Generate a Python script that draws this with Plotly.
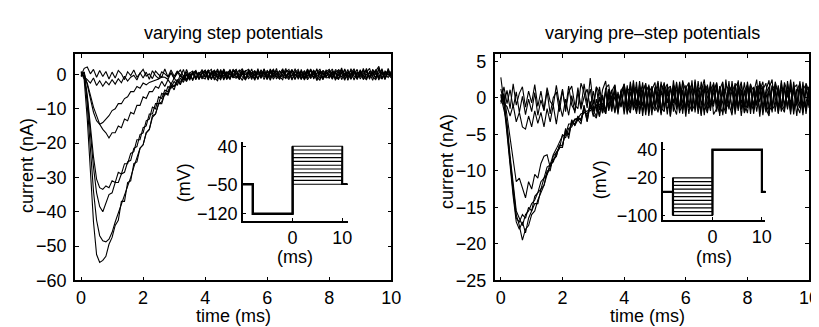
import plotly.graph_objects as go

# ---------------- data ----------------
SAMPLE_MS = 0.1
time_ms = [round(i * SAMPLE_MS, 1) for i in range(101)]

# Left panel: currents (nA) for different step potentials
step_trace_1 = [
    0.8, -1.5, -13.0, -29.5, -43.0, -52.5, -54.8, -54.2, -53.0, -49.5,
    -47.5, -44.0, -42.5, -37.0, -37.0, -31.5, -31.0, -26.0, -25.5, -21.5,
    -20.5, -17.0, -16.0, -12.5, -11.5, -8.5, -8.0, -5.5, -5.5, -3.0,
    -4.5, -1.5, -3.0, -0.2, -2.0, 0.5, -1.8, 0.9, -1.3, 0.4,
    1.2, -0.9, 0.6, -1.6, 1.0, -0.4, 1.5, -1.2, 0.3, -1.0,
    1.4, -1.5, 0.4, 1.1, -1.3, 0.2, -1.7, 1.0, -0.6, 1.6,
    -1.1, 0.7, -0.5, 1.8, -1.4, 0.9, -0.3, -1.5, 1.2, 0.1,
    -1.0, 1.5, -1.6, 0.4, 1.0, -0.9, 1.7, -1.2, 0.5, -0.6,
    1.3, -1.4, 0.7, -0.3, 1.9, -1.3, 0.2, 1.1, -1.6, 0.8,
    -0.7, 1.8, -1.0, 0.5, -1.7, 1.0, 2.4, -1.1, 0.3, -0.9,
    0.6]
step_trace_2 = [
    -0.5, 0.8, -9.0, -22.0, -34.0, -42.5, -47.0, -48.5, -48.8, -48.0,
    -46.0, -43.0, -40.5, -38.0, -35.5, -32.5, -30.0, -27.0, -24.5, -21.5,
    -20.5, -17.0, -16.0, -12.0, -11.5, -8.5, -8.5, -5.5, -6.0, -3.5,
    -3.5, -2.5, -2.0, -1.2, -1.5, -0.5, 0.5, -1.5, 0.4, -0.8,
    -1.3, 0.8, 1.5, -1.0, -1.8, 1.2, -0.6, 0.9, -1.4, 1.6,
    -0.5, -1.3, 1.0, -1.6, 1.4, 0.3, 1.1, -1.2, 0.7, -1.5,
    1.3, -0.7, 1.5, -1.3, 0.2, 1.7, -1.1, 0.6, -1.6, 0.9,
    0.4, -1.5, 1.2, -0.5, 1.6, -1.3, 0.3, 0.9, -1.0, 1.4,
    -1.2, 0.9, -1.7, 0.5, 1.3, -0.7, 1.5, -1.4, 0.8, -0.3,
    1.1, -1.3, 0.6, 1.8, -0.8, -1.5, 0.5, 1.3, -1.1, 0.9,
    -0.4]
step_trace_3 = [
    0.3, -0.8, -7.0, -17.0, -27.0, -34.5, -38.5, -40.0, -37.5, -35.0,
    -34.5, -31.5, -31.5, -29.0, -28.5, -25.5, -25.0, -21.5, -21.0, -17.5,
    -17.0, -13.5, -13.0, -9.5, -10.0, -6.5, -7.0, -4.5, -5.0, -2.5,
    -3.5, -1.5, -2.8, -0.5, -2.0, 0.3, -1.5, 0.9, -1.1, 0.6,
    -0.8, 1.3, -1.5, 0.6, 1.0, -1.2, 1.6, -0.4, -1.4, 0.8,
    1.5, -0.8, 0.3, -1.4, 1.1, -0.2, -1.3, 1.7, -0.9, 0.6,
    0.1, -1.7, 0.9, 0.5, -1.1, 1.4, -0.6, 0.2, 1.5, -1.2,
    0.8, -0.1, -1.4, 1.2, -0.6, 0.9, -1.8, 0.5, 1.1, -0.7,
    0.3, 1.6, -0.9, -1.3, 0.7, 0.2, -1.1, 1.7, -0.4, -1.2,
    1.4, -0.4, -1.6, 0.9, 0.5, -0.9, 1.9, -1.3, 0.7, 0.0,
    0.9]
step_trace_4 = [
    -0.6, 0.5, -6.0, -15.0, -24.0, -30.5, -33.0, -33.5, -32.5, -33.0,
    -31.0, -31.5, -28.5, -29.0, -26.0, -26.0, -23.0, -22.5, -19.0, -19.0,
    -15.5, -15.0, -11.5, -11.5, -8.5, -8.5, -5.5, -6.0, -3.5, -4.0,
    -2.0, -3.2, -1.0, -2.3, 0.0, -1.7, 0.6, -1.2, 0.3, 0.9,
    0.6, -1.6, 1.0, 0.2, -0.9, 1.5, -1.3, 0.4, 1.2, -0.6,
    -1.1, 0.7, 1.7, -1.2, 0.3, -0.8, 0.9, -1.5, 1.4, 0.0,
    0.7, 1.0, -1.4, 0.3, -0.7, -1.5, 1.2, 0.8, -0.5, 1.7,
    -1.4, 0.5, 0.9, -1.0, 1.5, 0.0, -0.7, -1.7, 1.2, 0.2,
    0.9, -0.7, 1.4, 1.0, -1.5, 0.5, -0.9, 0.3, 1.7, -1.0,
    -0.2, 0.7, 1.2, -1.4, 1.5, 0.0, -1.0, 0.5, -1.5, 1.8,
    -0.7]
step_trace_5 = [
    0.4, -0.5, -2.5, -6.0, -9.5, -12.0, -14.5, -16.0, -17.0, -18.5,
    -17.0, -17.0, -15.0, -15.5, -13.0, -13.5, -11.0, -11.5, -9.0, -9.0,
    -6.5, -7.0, -5.0, -5.0, -3.5, -4.0, -2.0, -3.5, -1.5, -2.8,
    -1.0, -2.3, -0.1, -1.7, 0.3, -1.4, 0.8, -1.0, 0.6, -0.8,
    1.0, -1.2, 0.4, 1.3, -0.5, -1.5, 0.9, 0.0, -1.0, 1.2,
    0.5, -0.4, -1.7, 1.0, 1.5, -0.8, 0.2, -1.3, 0.7, 0.3,
    -1.5, 1.4, 0.2, -0.7, 1.0, -0.3, 1.8, -1.0, -0.2, 0.7,
    1.5, -1.0, 0.5, -1.5, 0.0, 1.2, -0.5, 0.8, -1.3, 1.0,
    -0.3, 0.5, -1.2, 1.5, 0.3, -1.7, 0.8, -0.7, 1.0, 0.2,
    0.8, -1.5, 0.0, -0.5, 1.2, 0.3, -0.8, 1.7, -1.2, 0.5,
    0.2]
step_trace_6 = [
    -0.3, 0.6, -3.0, -7.5, -11.0, -13.5, -14.5, -14.0, -13.0, -12.0,
    -10.5, -10.0, -8.5, -8.5, -7.0, -6.5, -5.0, -5.0, -3.5, -4.0,
    -2.5, -3.0, -2.3, -2.0, -1.5, -1.3, -0.7, -0.8, -1.4, 0.5,
    -1.2, 0.9, -0.7, 1.5, -1.6, 0.4, 1.0, -0.8, 0.5, -1.3,
    0.2, 1.3, -1.0, -0.3, 1.6, -0.7, 0.5, -1.5, 0.8, 0.3,
    -0.8, 0.0, 1.2, -1.0, -0.5, 1.6, -1.3, 0.3, 1.0, -0.7,
    0.8, -1.2, 0.3, 1.0, -0.2, -0.8, 0.7, 1.5, -1.3, 0.0,
    -0.5, 1.0, -0.8, 1.6, -1.2, 0.3, 1.3, -0.3, -1.5, 0.8,
    1.5, -0.2, 0.7, -1.0, 0.5, 1.2, -1.7, 0.2, 0.8, -0.8,
    0.3, 1.2, -1.3, 0.7, -0.3, 1.5, -0.7, -1.2, 1.0, 0.0,
    -1.0]
step_trace_7 = [
    0.9, -0.7, -1.5, -2.5, -1.0, -3.2, -1.8, -3.4, -2.0, -3.0,
    -1.5, -2.8, -1.2, -2.4, -0.5, -1.9, -0.8, -0.2, -1.6, 0.5,
    -1.0, 0.7, -1.4, 1.1, -0.3, -1.2, 0.8, 0.2, -0.7, 1.3,
    -0.5, 1.0, 0.0, -1.3, 1.5, -0.8, 0.3, 1.2, -1.5, 0.5,
    1.3, -0.3, -1.2, 0.8, 0.0, 1.0, -1.6, 0.7, 0.3, -0.8,
    0.2, 1.3, -0.7, -1.5, 0.8, 0.5, -0.3, 1.2, -1.2, 1.6,
    -0.7, 0.3, 1.5, -0.5, -1.3, 1.0, 0.0, -0.8, 1.3, -0.3,
    1.0, -1.2, 0.0, 0.7, -0.5, 1.3, -1.5, 1.0, 0.2, -1.0,
    -0.8, 1.0, 0.3, -1.5, 1.3, -0.3, 0.7, -1.2, 0.0, 1.5,
    -1.3, 0.2, 1.0, -0.7, 0.5, -1.2, 1.5, 0.3, -0.8, 1.0,
    0.0]
step_trace_8 = [
    -0.3, 1.8, 2.2, 0.2, 1.5, -0.8, 1.2, -0.6, 0.9, -1.3,
    0.7, -1.0, 1.2, 0.2, -1.5, 0.8, -0.3, 1.3, -0.8, 0.3,
    1.5, -0.5, 0.2, -1.2, 1.0, 0.0, -0.8, 1.6, -0.7, 0.5,
    -1.0, 0.3, 1.3, -0.5, 0.8, -1.3, 0.2, 1.0, -0.3, 1.5,
    -0.8, 0.7, -0.2, 1.2, -1.3, 0.5, 0.8, -1.0, 1.5, -0.3,
    0.3, -0.8, 1.3, 0.0, 0.7, -1.5, 1.0, 0.2, -0.5, 0.8,
    -1.2, 1.6, -0.7, 0.2, 1.0, -0.3, -1.2, 0.7, 0.5, -1.5,
    0.8, 0.2, -1.0, 1.5, -0.2, -0.8, 0.5, 1.6, -1.3, 0.3,
    0.0, -1.2, 1.0, 0.7, -0.8, 1.6, -0.5, -0.2, 1.2, -1.5,
    0.7, -0.5, 1.8, -1.0, 0.3, 1.0, -1.6, 0.8, 0.0, 1.3,
    -0.5]

# Right panel: currents (nA) for different pre-step potentials
prestep_trace_1 = [
    2.8, -0.5, -4.0, -8.5, -12.5, -16.0, -17.5, -19.5, -18.0, -17.5,
    -16.0, -15.5, -14.0, -13.0, -12.0, -10.5, -9.5, -8.5, -8.0, -6.5,
    -6.5, -4.8, -5.0, -3.0, -3.8, -2.5, -3.2, -1.0, -3.3, -0.8,
    -2.6, -0.2, -2.5, 0.4, -2.2, 0.5, -1.9, 1.3, -1.5, 0.9,
    -1.8, 1.3, -0.9, 2.0, -2.2, 0.6, 1.7, -1.5, 1.1, -2.4,
    1.5, -0.8, 2.2, -1.7, 0.9, -2.6, 1.8, -0.4, -1.2, 2.4,
    -2.0, 1.0, 1.9, -1.4, 0.6, -2.3, 1.6, 0.2, -1.8, 2.1,
    -0.9, -2.1, 1.5, 0.7, -1.6, 2.3, -1.1, 1.4, -2.5, 0.9,
    1.8, -1.5, 0.6, 2.5, -1.9, 1.2, -0.7, -2.2, 1.6, 0.1,
    -1.7, 2.0, -1.0, 1.1, -2.3, 1.7, -0.4, -1.4, 2.2, -1.6,
    0.9]
prestep_trace_2 = [
    0.5, -1.0, -5.0, -9.5, -13.5, -17.0, -18.0, -17.0, -18.5, -16.5,
    -15.5, -14.5, -14.5, -12.5, -12.0, -10.0, -10.0, -8.0, -7.5, -7.0,
    -5.0, -5.5, -4.2, -4.0, -3.0, -3.0, -3.6, -1.2, -2.8, -0.5,
    -2.3, -2.8, 0.0, -2.0, 1.0, -1.6, 0.3, -2.1, 0.8, -1.2,
    1.6, -2.0, 0.8, -1.3, 2.2, -1.8, 1.0, 1.8, -2.5, 0.7,
    -1.2, 2.0, -2.1, 1.3, -0.4, -1.6, 2.4, -1.0, 1.2, -2.2,
    1.7, -0.8, -1.9, 2.2, -1.5, 0.9, -2.4, 1.8, -0.5, -1.2,
    2.0, -1.7, 1.1, -0.9, 2.3, -2.0, 0.7, -1.5, 1.9, -0.6,
    -2.1, 1.3, -1.0, 1.6, -2.6, 1.1, 2.0, -1.3, -1.7, 2.2,
    0.6, -1.9, 1.7, -1.2, 1.4, -2.3, 1.0, 1.9, -1.5, -0.7,
    1.5]
prestep_trace_3 = [
    -0.8, 0.4, -4.5, -9.0, -13.0, -16.5, -17.0, -16.0, -16.5, -15.0,
    -15.5, -13.5, -13.0, -12.5, -11.0, -10.5, -9.0, -8.8, -7.5, -6.8,
    -6.8, -4.2, -5.6, -3.2, -3.8, -3.0, -2.8, -2.0, -2.2, -1.4,
    -1.8, -0.9, -2.6, 0.2, -1.7, 0.0, 1.1, -1.9, 0.4, -1.3,
    1.2, -2.3, 1.8, -0.8, -1.6, 2.3, -1.1, 0.9, -2.0, 1.6,
    -1.5, 0.8, -2.4, 1.9, -0.7, 1.5, -1.9, 2.2, -1.4, 1.0,
    -2.6, 1.5, 0.9, -1.6, 2.3, -1.0, 1.2, -2.1, 1.6, -0.9,
    1.4, -2.5, 1.9, -1.1, 0.8, 1.7, -2.3, 1.2, -0.8, 2.1,
    -1.4, 1.9, -2.2, 0.6, 1.5, -1.8, 1.0, 2.4, -1.6, -1.0,
    1.7, -1.2, -2.0, 2.3, -0.8, 1.1, -2.5, 1.4, 0.9, -1.8,
    1.3]
prestep_trace_4 = [
    0.2, -1.5, -3.5, -8.0, -12.0, -15.5, -16.5, -17.5, -16.0, -15.5,
    -14.5, -14.0, -13.0, -11.5, -11.0, -9.5, -9.2, -7.8, -7.0, -6.0,
    -5.2, -5.1, -3.6, -3.6, -2.9, -2.8, -2.2, -2.1, -1.8, -1.8,
    -1.2, -1.4, -0.9, -0.8, -1.8, 1.2, -1.5, 0.2, -2.0, 0.8,
    -1.1, 1.7, -1.9, 1.0, 1.5, -2.2, 0.6, 2.0, -1.4, 1.1,
    2.1, -1.8, 0.9, -1.2, 1.7, -2.5, 1.3, -0.8, 1.9, -1.7,
    0.8, -1.4, 2.4, -2.0, 1.1, 1.5, -1.7, -0.9, 2.2, -2.3,
    -1.5, 1.6, -0.8, -2.2, 1.3, 0.9, 1.8, -1.8, 1.1, -1.3,
    2.2, -0.9, -1.6, 1.1, 1.8, -2.4, 0.6, 1.5, -1.1, 1.9,
    -2.2, 1.0, 1.4, -1.6, 2.5, -1.3, -0.9, 1.6, -2.0, 1.2,
    -1.4]
prestep_trace_5 = [
    -0.5, 0.6, -2.5, -5.5, -8.5, -11.5, -11.0, -12.5, -13.7, -11.5,
    -12.5, -10.5, -11.0, -9.0, -8.0, -7.8, -9.5, -8.5, -8.0, -6.5,
    -6.6, -4.4, -5.1, -3.4, -3.6, -2.7, -3.1, -1.4, -3.2, -0.8,
    -1.6, -2.6, 0.1, -2.1, 0.9, -1.8, 0.2, 0.8, -1.5, 0.3,
    1.9, -1.2, -2.1, 1.4, -0.8, 1.8, -2.5, 1.0, 1.6, -1.5,
    0.6, 2.3, -1.4, -1.9, 1.2, 1.6, -1.1, -2.3, 1.5, 0.9,
    -1.6, 2.0, -1.2, 1.4, -2.2, 0.8, 2.5, -1.5, -1.0, 1.7,
    -1.9, 1.1, 2.2, -1.4, -0.8, -2.4, 1.5, 2.1, -1.6, 0.6,
    1.2, -2.2, 1.5, -1.1, 2.0, 0.7, -2.0, 1.3, 2.5, -1.9,
    1.4, -0.6, -1.7, 1.9, -1.4, 2.2, -1.0, -2.1, 1.1, 1.8,
    -1.0]
prestep_trace_6 = [
    0.4, -0.8, -1.2, -2.5, -1.0, -3.3, -2.0, -4.0, -4.3, -2.5,
    -4.0, -1.8, -3.5, -2.0, -4.0, -1.5, -3.3, -1.0, -3.6, -0.8,
    -2.6, -0.2, -2.4, 0.3, -2.1, 0.8, -1.6, 0.1, 1.2, -1.4,
    0.9, -1.9, 1.5, -1.2, -2.2, 1.1, -0.8, 1.7, -1.6, 1.0,
    -2.3, 0.9, 1.4, -1.7, 1.2, -1.0, 2.1, -1.9, 0.7, 1.5,
    -0.9, -2.0, 1.8, 1.1, -2.3, 1.4, -0.7, 2.0, -1.8, -1.1,
    1.3, 2.1, -1.8, -0.8, 1.5, -2.5, 1.9, 0.9, -1.3, 1.2,
    1.8, -1.3, -2.0, 2.5, -1.1, 1.0, -1.7, 0.6, 2.2, -2.1,
    -0.8, 1.7, 1.0, -1.9, 0.9, 2.2, -1.5, -2.5, 1.4, 0.8,
    -2.1, 1.5, 0.9, -1.4, 2.1, -1.8, 1.2, 0.8, -2.4, 2.0,
    0.8]
prestep_trace_7 = [
    -0.6, 1.5, -0.8, 1.1, -1.4, 0.8, -2.0, 0.2, -2.3, -0.2,
    -1.9, 0.7, -2.4, -0.3, -1.8, 0.9, -2.2, 0.0, 0.8, -1.9,
    1.0, -1.5, 1.6, -1.0, -1.8, 1.4, -1.3, 1.9, -0.8, 1.2,
    -1.7, 1.5, 0.7, -2.1, 1.3, 1.8, -1.4, 0.9, -2.3, 1.1,
    1.5, -1.6, 2.2, -0.8, -2.0, 1.1, 0.8, -2.4, 1.8, -0.9,
    -1.8, 1.2, 0.6, 2.1, -1.5, -0.9, 1.7, 1.0, -2.1, 2.2,
    1.0, -2.2, 1.4, 0.7, -1.3, 2.2, -0.9, -2.0, 1.1, 1.9,
    -0.8, 1.3, -2.4, 1.7, 1.1, -1.5, 2.0, -1.1, 0.8, -2.0,
    1.6, -1.7, 1.2, -1.0, 2.3, -1.2, 0.7, -1.8, 1.7, 1.1,
    -1.3, 2.4, -1.5, 0.6, -1.9, 1.3, 1.8, -1.1, 1.5, -2.2,
    0.9]
prestep_trace_8 = [
    1.2, -0.8, 1.0, -1.5, 1.9, -1.0, 0.6, 1.5, -1.3, 0.9,
    -0.7, 1.8, -1.2, 0.9, -1.6, 1.4, -0.5, -1.1, 1.7, -0.9,
    1.2, -1.9, 0.8, 1.6, -1.0, -1.5, 2.0, 0.7, -1.4, 2.7,
    -0.9, 1.5, -1.7, 1.1, 2.3, -1.2, 0.9, 1.8, -1.5, 0.7,
    1.9, -0.7, -1.6, 2.4, -1.1, 0.8, -2.0, 1.5, 1.0, -1.7,
    1.3, -0.4, -2.1, 1.0, 1.9, -1.3, 0.8, -1.6, 2.2, -0.7,
    -1.0, 1.7, -1.5, 2.5, -0.8, -1.7, 1.2, 1.6, -1.4, 0.6,
    2.1, -0.9, 0.8, -1.8, 1.5, 1.1, -1.2, 2.4, -1.6, 0.9,
    -1.1, 1.9, -1.7, 1.3, -0.6, 1.6, -1.3, 0.9, -2.0, 1.7,
    0.8, -1.4, 2.1, 0.7, -1.5, 1.2, -0.9, 2.3, -1.1, 0.9,
    1.5]

step_traces = [step_trace_1, step_trace_2, step_trace_3, step_trace_4,
               step_trace_5, step_trace_6, step_trace_7, step_trace_8]
prestep_traces = [prestep_trace_1, prestep_trace_2, prestep_trace_3, prestep_trace_4,
                  prestep_trace_5, prestep_trace_6, prestep_trace_7, prestep_trace_8]
for tr in step_traces + prestep_traces:
    assert len(tr) == len(time_ms), len(tr)

# Inset protocols (ms / mV)
step_protocol_t = [-10, -8, 0, 10, 11]
step_hold_mV = -50
step_pre_mV = -120
step_levels_mV = [-50, -41, -32, -23, -14, -5, 4, 13, 22, 31, 40]

prestep_protocol_t = [-10, -8, 0, 10, 11]
prestep_hold_mV = -50
prestep_levels_mV = [-100, -92, -84, -76, -68, -60, -52, -44, -36, -28, -20]
prestep_test_mV = 40

# ---------------- figure ----------------
W, H = 819, 327
FONT = "Liberation Sans, Arial, Helvetica, sans-serif"
FS = 18

def px(x):
    return x / W

def py(y):
    return 1 - y / H

fig = go.Figure()

for tr in step_traces:
    fig.add_trace(go.Scatter(x=time_ms, y=tr, mode="lines",
                             line=dict(color="black", width=1.1),
                             xaxis="x", yaxis="y", showlegend=False, hoverinfo="skip"))
for tr in prestep_traces:
    fig.add_trace(go.Scatter(x=time_ms, y=tr, mode="lines",
                             line=dict(color="black", width=1.1),
                             xaxis="x2", yaxis="y2", showlegend=False, hoverinfo="skip"))

# left inset: varying step potentials
t0, t1, t2, t3, t4 = step_protocol_t
for L in step_levels_mV:
    fig.add_trace(go.Scatter(x=[t0, t1, t1, t2, t2, t3, t3, t4],
                             y=[step_hold_mV, step_hold_mV, step_pre_mV, step_pre_mV, L, L, step_hold_mV, step_hold_mV],
                             mode="lines", line=dict(color="black", width=1.1),
                             xaxis="x3", yaxis="y3", showlegend=False, hoverinfo="skip"))
fig.add_trace(go.Scatter(x=[t0, t1, t1, t2, t2],
                         y=[step_hold_mV, step_hold_mV, step_pre_mV, step_pre_mV, max(step_levels_mV)],
                         mode="lines", line=dict(color="black", width=2.4),
                         xaxis="x3", yaxis="y3", showlegend=False, hoverinfo="skip"))
fig.add_trace(go.Scatter(x=[t3, t3, t4],
                         y=[max(step_levels_mV), step_hold_mV, step_hold_mV],
                         mode="lines", line=dict(color="black", width=1.8),
                         xaxis="x3", yaxis="y3", showlegend=False, hoverinfo="skip"))

# right inset: varying pre-step potentials
s0, s1, s2, s3, s4 = prestep_protocol_t
for L in prestep_levels_mV:
    fig.add_trace(go.Scatter(x=[s0, s1, s1, s2, s2, s3, s3, s4],
                             y=[prestep_hold_mV, prestep_hold_mV, L, L, prestep_test_mV, prestep_test_mV,
                                prestep_hold_mV, prestep_hold_mV],
                             mode="lines", line=dict(color="black", width=1.1),
                             xaxis="x4", yaxis="y4", showlegend=False, hoverinfo="skip"))
fig.add_trace(go.Scatter(x=[s0, s1, s1],
                         y=[prestep_hold_mV, prestep_hold_mV, min(prestep_levels_mV)],
                         mode="lines", line=dict(color="black", width=2.2),
                         xaxis="x4", yaxis="y4", showlegend=False, hoverinfo="skip"))
fig.add_trace(go.Scatter(x=[s1, s1], y=[min(prestep_levels_mV), max(prestep_levels_mV)],
                         mode="lines", line=dict(color="black", width=2.0),
                         xaxis="x4", yaxis="y4", showlegend=False, hoverinfo="skip"))
fig.add_trace(go.Scatter(x=[s2, s2, s3, s3, s4],
                         y=[min(prestep_levels_mV), prestep_test_mV, prestep_test_mV, prestep_hold_mV, prestep_hold_mV],
                         mode="lines", line=dict(color="black", width=2.2),
                         xaxis="x4", yaxis="y4", showlegend=False, hoverinfo="skip"))

main_axis = dict(showline=True, linecolor="black", linewidth=1.5, mirror="ticks",
                 ticks="inside", ticklen=4, tickwidth=1, tickcolor="black",
                 showgrid=False, zeroline=False,
                 tickfont=dict(family=FONT, size=FS, color="black"))
inset_axis = dict(showline=True, linecolor="black", linewidth=1.5, mirror=False,
                  ticks="inside", ticklen=3, tickwidth=1, tickcolor="black",
                  showgrid=False, zeroline=False,
                  tickfont=dict(family=FONT, size=FS, color="black"))

ydom = [py(280), py(42)]
fig.update_layout(
    width=W, height=H,
    margin=dict(l=0, r=0, t=0, b=0),
    paper_bgcolor="white", plot_bgcolor="rgba(0,0,0,0)",
    font=dict(family=FONT, size=FS, color="black"),
    xaxis=dict(main_axis, domain=[px(67.7), px(388)], range=[-0.2, 10],
               tickvals=[0, 2, 4, 6, 8, 10], anchor="y"),
    yaxis=dict(main_axis, domain=ydom, range=[-60, 6],
               tickvals=[-60, -50, -40, -30, -20, -10, 0], anchor="x", ticklabelstandoff=3),
    xaxis2=dict(main_axis, domain=[px(492.7), px(811)], range=[-0.2, 10],
                tickvals=[0, 2, 4, 6, 8, 10], anchor="y2"),
    yaxis2=dict(main_axis, domain=ydom, range=[-25, 6],
                tickvals=[-25, -20, -15, -10, -5, 0, 5], anchor="x2", ticklabelstandoff=3),
    xaxis3=dict(inset_axis, domain=[px(237.7), px(344)], range=[-10, 11.1],
                tickvals=[0, 10], anchor="y3"),
    yaxis3=dict(inset_axis, domain=[py(217.7), py(135)], range=[-137.3, 49],
                tickvals=[-120, -50, 40], anchor="x3"),
    xaxis4=dict(inset_axis, domain=[px(662.7), px(766.7)], range=[-10.1, 10.7],
                tickvals=[0, 10], anchor="y4"),
    yaxis4=dict(inset_axis, domain=[py(216.7), py(135)], range=[-110.1, 55.6],
                tickvals=[-100, -20, 40], anchor="x4"),
)

def label(text, x, y, angle=0):
    fig.add_annotation(text=text, x=px(x), y=py(y), xref="paper", yref="paper",
                       showarrow=False, textangle=angle, xanchor="center", yanchor="middle",
                       font=dict(family=FONT, size=FS, color="black"))

label("varying step potentials", 228, 20)
label("varying pre\u2013step potentials", 652, 20)
label("time (ms)", 228, 318)
label("time (ms)", 647, 318)
label("current (nA)", 19, 159, -90)
label("current (nA)", 445, 155, -90)
label("(mV)", 179, 177, -90)
label("(mV)", 600, 174, -90)
label("(ms)", 291, 255)
label("(ms)", 715, 255)

fig.write_html("out.html")
